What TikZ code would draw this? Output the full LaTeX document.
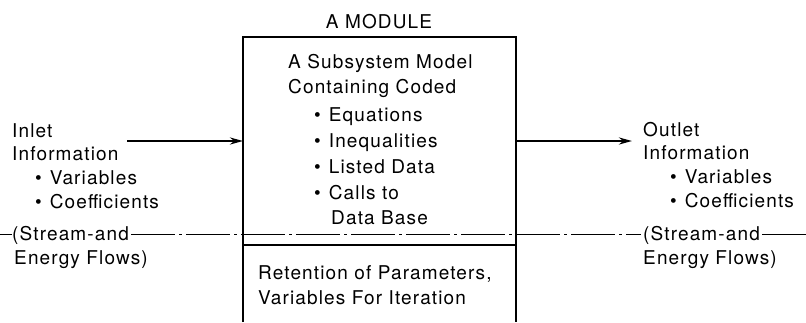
\documentclass[tikz,border=0pt]{standalone}
\usepackage{fontspec}
\setmainfont{TeX Gyre Heros}[LetterSpace=6]
\usetikzlibrary{arrows.meta}
\newcommand{\itm}[1]{\textbullet\hspace{8pt}#1}

\begin{document}
\begin{tikzpicture}[x=1pt,y=-1pt,
    txt/.style={anchor=base west,inner sep=0pt,font=\fontsize{19}{23}\selectfont},
    boxline/.style={line width=1.4pt},
    flow/.style={line width=2.8pt,-{Stealth[length=13pt,width=7pt]}},
    divline/.style={line width=0.9pt,dash pattern=on 44pt off 4pt on 3pt off 4pt}]
    \useasboundingbox (0,0) rectangle (806,322);
    % the module box, open at the bottom
    \coordinate (tl) at (243,37);
    \coordinate (tr) at (516,37);
    \coordinate (bl) at (243,322);
    \coordinate (br) at (516,322);
    \coordinate (ml) at (243,245);
    \coordinate (mr) at (516,245);
    \draw[boxline] (bl) -- (tl) -- (tr) -- (br);
    \draw[boxline] (ml) -- (mr);
    \node[txt,anchor=base] (title) at (379,28) {A MODULE};
    % model text
    \node[txt] (m1) at (288,68) {A Subsystem Model};
    \node[txt] (m2) at (288,93) {Containing Coded};
    \foreach \t [count=\i] in {Equations,Inequalities,Listed Data,Calls to}
    \node[txt] (b\i) at (314,95+26*\i) {\itm{\t}};
    \node[txt] (b5) at (331,224) {Data Base};
    \node[txt] (r1) at (258,279) {Retention of Parameters,};
    \node[txt] (r2) at (258,304) {Variables For Iteration};
    % inlet side
    \node[txt] (in1) at (12,137) {Inlet};
    \node[txt] (in2) at (12,160) {Information};
    \node[txt] (in3) at (35,184) {\itm{Variables}};
    \node[txt] (in4) at (35,208) {\itm{Coefficients}};
    \node[txt] (in5) at (12,240) {(Stream-and};
    \node[txt] (in6) at (14,264) {Energy Flows)};
    % outlet side
    \node[txt] (out1) at (643,136) {Outlet};
    \node[txt] (out2) at (643,159) {Information};
    \node[txt] (out3) at (670,183) {\itm{Variables}};
    \node[txt] (out4) at (670,207) {\itm{Coefficients}};
    \node[txt] (out5) at (643,240) {(Stream-and};
    \node[txt] (out6) at (643,264) {Energy Flows)};
    % flows
    \coordinate (inStart) at (127,141);
    \coordinate (outEnd) at (632,141);
    \draw[flow] (inStart) -- (tl |- inStart);
    \draw[flow] (tr |- outEnd) -- (outEnd);
    \coordinate (dl) at (0,234);
    \coordinate (dr) at (806,234);
    \draw[divline] (dl) -- (in5.west |- dl);
    \draw[divline] ([xshift=2pt]in5.east |- dl) -- ([xshift=-2pt]out5.west |- dl);
    \draw[divline] ([xshift=2pt]out5.east |- dl) -- (dr);
\end{tikzpicture}
\end{document}
